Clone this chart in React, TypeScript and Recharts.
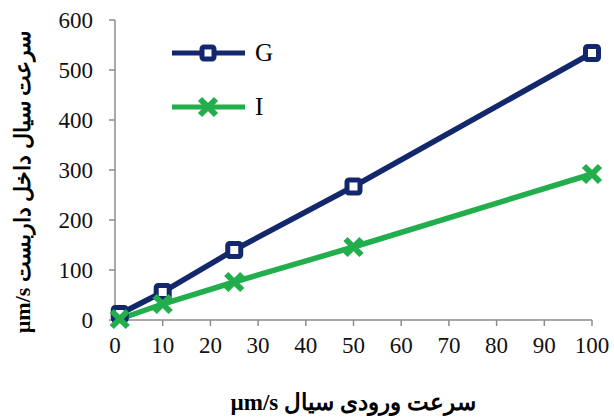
import React from "react";
import { LineChart, Line, XAxis, YAxis } from "recharts";

const xValues = [1, 10, 25, 50, 100];
const gValues = [12, 56, 140, 267, 534];
const iValues = [2, 32, 76, 146, 292];
const xTicks = [0, 10, 20, 30, 40, 50, 60, 70, 80, 90, 100];
const yTicks = [0, 100, 200, 300, 400, 500, 600];
const seriesNames = ["G", "I"];

const NAVY = "#13286C";
const GREEN = "#22AE4C";
const AXIS = "#8C8C8C";
const FONT = "'Liberation Serif', 'Times New Roman', serif";

const data = xValues.map((x, i) => ({ x, G: gValues[i], I: iValues[i] }));

const SquareDot = (props: any) => {
  const { cx, cy, index } = props;
  if (cx == null || cy == null) return <g key={index} />;
  return (
    <rect key={index} x={cx - 6.5} y={cy - 6.5} width={13} height={13} rx={2}
      fill="#fff" stroke={NAVY} strokeWidth={5} />
  );
};

const CrossDot = (props: any) => {
  const { cx, cy, index } = props;
  if (cx == null || cy == null) return <g key={index} />;
  const s = 8;
  return (
    <g key={index} stroke={GREEN} strokeWidth={6} strokeLinecap="butt">
      <line x1={cx - s} y1={cy - s} x2={cx + s} y2={cy + s} />
      <line x1={cx - s} y1={cy + s} x2={cx + s} y2={cy - s} />
    </g>
  );
};

const tickStyle = { fontFamily: FONT, fontSize: 23, fill: "#111" };

export default function App() {
  return (
    <div style={{ position: "absolute", left: 0, top: 0, width: 614, height: 419, background: "#fff" }}>
      <LineChart width={614} height={419} data={data}
        margin={{ top: 20, right: 22, bottom: 39, left: 0 }}>
        <XAxis dataKey="x" type="number" domain={[0, 100]} ticks={xTicks}
          stroke={AXIS} strokeWidth={1.5} tickSize={6} tickMargin={11}
          tick={tickStyle} height={60} interval={0} />
        <YAxis type="number" domain={[0, 600]} ticks={yTicks} width={115}
          stroke={AXIS} strokeWidth={1.5} tickSize={6} tickMargin={16}
          tick={tickStyle} interval={0} />
        <Line dataKey="G" stroke={NAVY} strokeWidth={5.5} dot={<SquareDot />}
          isAnimationActive={false} />
        <Line dataKey="I" stroke={GREEN} strokeWidth={5.5} dot={<CrossDot />}
          isAnimationActive={false} />
      </LineChart>
      <svg width={614} height={419} style={{ position: "absolute", left: 0, top: 0, pointerEvents: "none" }}>
        <g transform="translate(172,0)">
          <line x1={0} y1={53} x2={73} y2={53} stroke={NAVY} strokeWidth={5} />
          <rect x={30} y={47} width={12} height={12} rx={2} fill="#fff" stroke={NAVY} strokeWidth={5} />
          <text x={83} y={61} fontFamily={FONT} fontSize={25} fill="#000">{seriesNames[0]}</text>
          <line x1={0} y1={107} x2={73} y2={107} stroke={GREEN} strokeWidth={5} />
          <g stroke={GREEN} strokeWidth={6}>
            <line x1={28} y1={99} x2={44} y2={115} />
            <line x1={28} y1={115} x2={44} y2={99} />
          </g>
          <text x={83} y={115} fontFamily={FONT} fontSize={25} fill="#000">{seriesNames[1]}</text>
        </g>
        <text x={353} y={410} textAnchor="middle" fontFamily={FONT} fontSize={23}
          fontWeight="bold" fill="#000" direction="rtl">سرعت ورودی سیال µm/s</text>
        <text x={0} y={0} transform="translate(30,182) rotate(-90)" textAnchor="middle"
          fontFamily={FONT} fontSize={22} fontWeight="bold" fill="#000" direction="rtl">سرعت سیال داخل داربست µm/s</text>
      </svg>
    </div>
  );
}
